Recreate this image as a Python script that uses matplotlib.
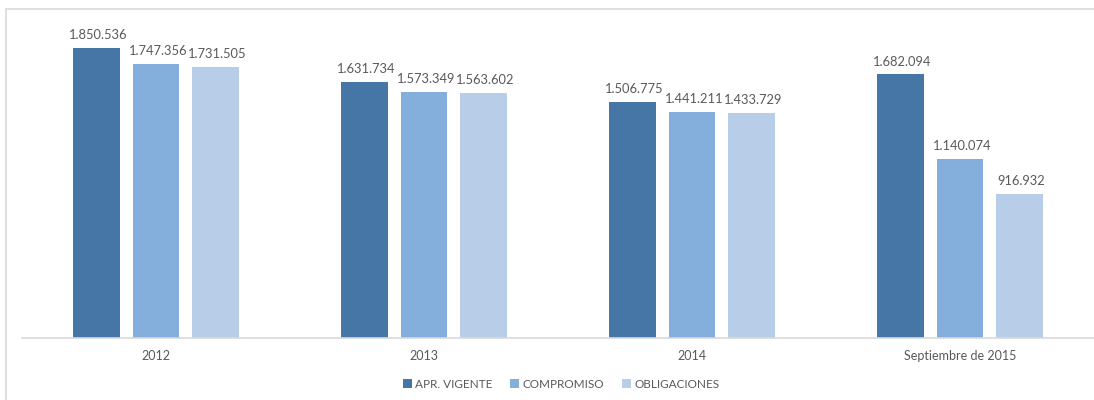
import matplotlib.pyplot as plt
from matplotlib.patches import Rectangle
import numpy as np

plt.rcParams['font.family'] = ['Lato', 'DejaVu Sans']

# data
categories = ['2012', '2013', '2014', 'Septiembre de 2015']
series_names = ['APR. VIGENTE', 'COMPROMISO', 'OBLIGACIONES']
apr_vigente = [1850536, 1631734, 1506775, 1682094]
compromiso = [1747356, 1573349, 1441211, 1140074]
obligaciones = [1731505, 1563602, 1433729, 916932]

colors = ['#4676a6', '#84aedb', '#b8cde8']
text_color = '#595959'


def fmt(v):
    return '{:,}'.format(v).replace(',', '.')


fig = plt.figure(figsize=(10.94, 4.0), dpi=100)
ax = fig.add_axes([22 / 1094, 62 / 400, 1072 / 1094, 318 / 400])

# light outer border like the spreadsheet chart frame
fig.patches.append(Rectangle((6 / 1094, -0.1), 1.2, (391 + 40) / 400,
                             transform=fig.transFigure, fill=False,
                             edgecolor='#d9d9d9', linewidth=1.2))

x = np.arange(len(categories))
width = 0.175
step = 0.222

for i, (name, vals) in enumerate(zip(series_names, [apr_vigente, compromiso, obligaciones])):
    bars = ax.bar(x + (i - 1) * step, vals, width, color=colors[i], label=name)
    for b, v in zip(bars, vals):
        ax.annotate(fmt(v), (b.get_x() + b.get_width() / 2, v),
                    xytext=(1.5, 5), textcoords='offset points',
                    ha='center', va='bottom', fontsize=9.3, color=text_color)

ax.set_xlim(-0.5, 3.5)
ax.set_ylim(0, 2030000)
ax.set_xticks(x)
ax.set_xticklabels(categories, fontsize=9, color=text_color)
ax.tick_params(axis='x', length=0, pad=9)
ax.set_yticks([])
for s in ['top', 'right', 'left']:
    ax.spines[s].set_visible(False)
ax.spines['bottom'].set_color('#d9d9d9')
ax.spines['bottom'].set_linewidth(1.2)

leg = fig.legend(loc='center', bbox_to_anchor=(561 / 1094, 1 - 384 / 400), ncol=3,
                 frameon=False, fontsize=8.5, handlelength=0.75, handleheight=0.75,
                 handletextpad=0.3, columnspacing=1.5)
for t in leg.get_texts():
    t.set_color(text_color)

fig.savefig('out.png', dpi=100)
